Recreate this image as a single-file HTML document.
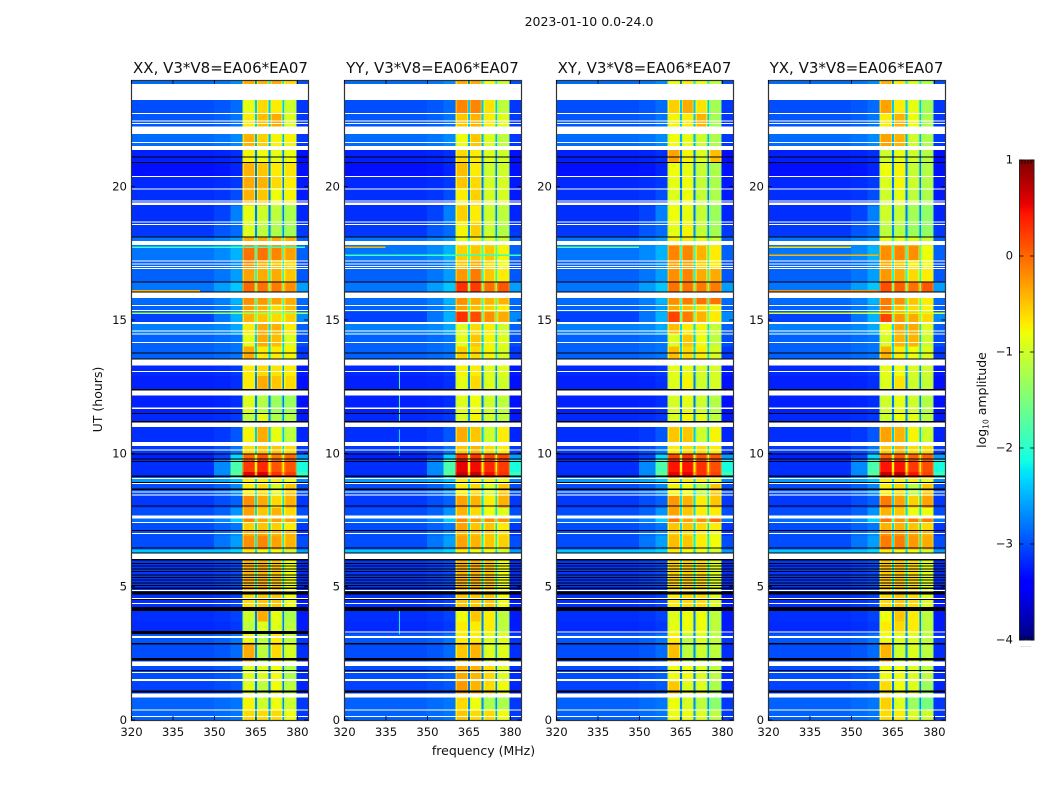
<!DOCTYPE html>
<html lang="en">
<head>
<meta charset="utf-8">
<title>2023-01-10 0.0-24.0 spectrograms</title>
<style>
  html, body { margin: 0; padding: 0; background: #fff; }
  #chart { display: block; width: 1050px; height: 800px; }
  #chart text { font-family: "DejaVu Sans", "Liberation Sans", sans-serif; fill: #111; }
</style>
</head>
<body>
<svg id="chart" xmlns="http://www.w3.org/2000/svg" width="1050" height="800" viewBox="0 0 1050 800">
  <rect x="0" y="0" width="1050" height="800" fill="#fff"/>
  <text x="589" y="26" font-size="12.5" text-anchor="middle">2023-01-10 0.0-24.0</text>
  <g id="panels"></g>
  <text x="220.5" y="73" font-size="15" text-anchor="middle">XX, V3*V8=EA06*EA07</text>
  <text x="432.5" y="73" font-size="15" text-anchor="middle">YY, V3*V8=EA06*EA07</text>
  <text x="644.5" y="73" font-size="15" text-anchor="middle">XY, V3*V8=EA06*EA07</text>
  <text x="856.5" y="73" font-size="15" text-anchor="middle">YX, V3*V8=EA06*EA07</text>
  <text x="483.5" y="755" font-size="12.5" text-anchor="middle">frequency (MHz)</text>
  <text x="102" y="399.5" font-size="12.5" text-anchor="middle" transform="rotate(-90 102 399.5)">UT (hours)</text>
  <g id="colorbar"></g>
  <text x="986" y="400" font-size="12.5" text-anchor="middle" transform="rotate(-90 986 400)">log<tspan font-size="7.5" dy="2.5">10</tspan><tspan dy="-2.5"> amplitude</tspan></text>
  <text x="1026" y="647" font-size="6" text-anchor="middle" style="fill:#999">......</text>
</svg>
<script>
// ---- chart data (all levels are log10 amplitude, times in UT hours, frequencies in MHz) ----
const xTickLabels = [320, 335, 350, 365, 380];
const yTickLabels = [0, 5, 10, 15, 20];
const colorbarTickLabels = [-4, -3, -2, -1, 0, 1];
const panelIds = ['xx', 'yy', 'xy', 'yx'];

const channelEdges = [320, 350, 356, 360.4, 360.8, 364.4, 364.8, 365.5, 365.9, 369.4, 369.8, 370.5, 370.9, 374.3, 374.7, 375.4, 375.8, 379.4, 379.8, 384];
const timeEdges = [0, .4, 1, 1.45, 2.1, 2.9, 3.25, 3.7, 4.1, 4.85, 6.25, 6.4, 6.9, 7.1, 7.4, 7.65, 7.95, 8.4, 8.9, 9.1, 9.3, 9.75, 10, 10.42, 11.15, 11.5, 12.4, 12.9, 13.55, 14, 14.5, 14.9, 15.3, 15.6, 16.05, 16.45, 16.95, 17.25, 17.8, 18.1, 18.7, 19.3, 19.95, 20.4, 20.9, 21.4, 22, 22.75, 23.85, 24];

const backgroundLevels = [-2.9,-2.9,-3.05,-3,-3,-2.95,-3.18,-3.15,-3.15,-3.1,-2.4,-3,-3,-3,-2.85,-3,-3.1,-3,-2.6,-3.15,-3.15,-3.22,-3.1,-3.15,-3.18,-3.22,-3.22,-3.18,-2.9,-2.9,-2.75,-3.05,-2.9,-2.85,-2.8,-2.9,-2.9,-2.8,-2.8,-3.1,-3.15,-3.15,-3.18,-3.3,-3.22,-2.85,-2.95,-3,-2.85];
const skirtFarLevels = [-2.85,-2.85,-3,-2.95,-2.95,-2.9,-3.15,-3.12,-3.12,-3.05,-2.4,-2.8,-2.85,-2.9,-2.7,-2.9,-3,-2.9,-2.55,-2.7,-2.7,-3.05,-3,-3.1,-3.15,-3.2,-3.2,-3.15,-2.85,-2.85,-2.7,-2.8,-2.8,-2.75,-2.6,-2.8,-2.85,-2.7,-2.7,-2.95,-3.05,-3.12,-3.15,-3.27,-3.2,-2.8,-2.9,-2.95,-2.8];
const skirtNearLevels = [-2.8,-2.8,-2.95,-2.9,-2.85,-2.8,-3.1,-3.05,-3.05,-3,-2.3,-2.6,-2.7,-2.8,-2.35,-2.65,-2.9,-2.7,-2.4,-1.7,-1.8,-2.3,-2.8,-2.95,-3.1,-3.15,-3.15,-3.1,-2.8,-2.8,-2.55,-2.5,-2.6,-2.5,-2.4,-2.6,-2.7,-2.5,-2.6,-2.85,-2.75,-3,-3.1,-3.2,-3.15,-2.7,-2.8,-2.85,-2.7];
const tailLevels = [-3.1,-3.1,-3.2,-3.15,-3.15,-3.1,-3.25,-3.25,-3.25,-3.15,-2.6,-3,-3.1,-3.1,-2.8,-3,-3.1,-3,-2.7,-1.9,-2.1,-2.6,-3.1,-3.2,-3.25,-3.3,-3.3,-3.25,-3.1,-3,-2.9,-2.7,-2.9,-2.85,-2.6,-2.95,-3,-2.9,-2.9,-3.1,-3.2,-3.25,-3.25,-3.3,-3.3,-3.1,-3.1,-3.1,-3];
const gapLevels = [-2.6,-2.7,-2.8,-2.8,-2.7,-2.7,-2.8,-2.8,-2.4,-2.2,-2.3,-2.2,-2.3,-2.3,-1.9,-2.3,-2.3,-2.3,-2.3,-.4,-.8,-1.1,-2.3,-2.4,-2.7,-2.8,-2.8,-2.7,-2.3,-2.4,-2.3,-1.6,-2,-1.9,-1.4,-2.1,-2.3,-1.9,-2.1,-2.7,-2.8,-2.8,-2.8,-2.8,-2.8,-2.5,-2.4,-2.4,-2.2];
const bandEdgeDrop = [0.25];

// four sub-band levels per time block
const xxBands = [[-.6,-.6,-.6,-.8],[-.75,-1,-.8,-1],[-.9,-1.1,-.8,-1.1],[-.9,-.9,-.8,-1.2],[-.35,-1.1,-.6,-.95],[-.8,-1.1,-.7,-1.1],[-1.1,-.9,-.9,-1.1],[-1,-.35,-.85,-1.2],[-.6,-.5,-.5,-.8],[-.4,-.4,-.5,-.8],[-.7,-.8,-.8,-1],[-.2,-.15,-.3,-.4],[-.35,-.3,-.4,-.4],[-.55,-.5,-.55,-.7],[-.15,-.3,-.3,-.3],[-.3,-.5,-.4,-.6],[-.2,-.35,-.6,-.4],[-.7,-.6,-.9,-.5],[-.7,-.7,-.7,-.8],[.55,.6,.3,.25],[.25,.35,.1,.1],[0,.1,-.1,0],[-.6,-.5,-.5,-.6],[-.75,-.35,-.85,-1.1],[-1.1,-.85,-1.2,-1.15],[-.9,-1.15,-1.3,-1.3],[-.7,-.35,-.5,-.6],[-.7,-.6,-.65,-.7],[-.35,-.7,-.7,-.75],[-.85,-.35,-.45,-.9],[-.7,-.35,-.4,-.7],[-.4,-.5,-.6,-.55],[-.3,-.4,-.6,-.45],[-.2,-.25,-.3,-.35],[0,-.05,-.1,-.2],[-.3,-.35,-.35,-.5],[-.2,-.4,-.5,-.6],[-.05,-.05,-.15,-.3],[-.35,-.35,-.35,-.4],[-.9,-1.1,-1.2,-1.25],[-.85,-1,-1.1,-1.2],[-.4,-.5,-.8,-.75],[-.35,-.4,-.6,-.7],[-.4,-.5,-.7,-.65],[-.75,-.8,-.85,-.8],[-.4,-.55,-.75,-.75],[-.7,-.45,-.35,-.9],[-.85,-.6,-.7,-1],[-.35,-.4,-.35,-.6]];
const yyBands = [[-.5,-.6,-.6,-.8],[-.6,-.8,-1.2,-1.2],[-.25,-.4,-.6,-.8],[-.35,-.4,-.6,-.9],[-.5,-.4,-.9,-.9],[-.7,-.7,-.9,-.9],[-.7,-.7,-.7,-1.1],[-.8,-.5,-.7,-1.1],[-.5,-.5,-.5,-.8],[-.4,-.4,-.5,-.8],[-.7,-.8,-.8,-1],[-.3,-.4,-.5,-.55],[-.4,-.45,-.5,-.6],[-.3,-.5,-.5,-.7],[-.15,-.25,-.2,-.2],[-.4,-.6,-.8,-.9],[-.3,-.4,-.7,-.4],[-.7,-.6,-.9,-.5],[-.7,-.7,-.7,-.8],[.7,.7,.5,.3],[.55,.5,.35,.25],[.3,.3,.2,.2],[-.5,-.4,-.6,-.7],[-.35,-.5,-1,-.7],[-.95,-.75,-1,-1.1],[-.9,-.8,-1,-1.1],[-.85,-.6,-.9,-1],[-.75,-.7,-.9,-.9],[-.55,-.6,-.75,-.95],[-.85,-.5,-.75,-.9],[-.9,-.6,-.7,-1],[.3,.15,-.2,-.35],[-.3,-.45,-.55,-.7],[-.2,-.35,-.4,-.4],[.3,.25,-.05,.1],[-.25,-.1,-.5,-.7],[-.5,-.35,-.6,-.8],[-.55,-.5,-.5,-.75],[-.8,-.7,-.9,-1],[-.75,-.55,-1,-1.15],[-.55,-.7,-1,-1.1],[-.7,-.55,-.95,-.95],[-.5,-.6,-.95,-.95],[-.45,-.7,-1,-1],[-.6,-.7,-.9,-1],[-.8,-.5,-.9,-1.1],[-.5,-.4,-.7,-.9],[-.15,-.15,-.65,-1.1],[-.35,-.35,-.8,-1]];
const xyBands = [[-.8,-.8,-.9,-1.1],[-.8,-.95,-1.1,-1.4],[-.5,-.9,-.9,-1.2],[-.8,-.8,-.9,-1.1],[-.45,-1.1,-1,-1.1],[-.7,-1.1,-.9,-1.1],[-.85,-.8,-.8,-1.1],[-.9,-.8,-.8,-1.1],[-.7,-.6,-.6,-.9],[-.55,-.55,-.6,-.9],[-.7,-.8,-.8,-1],[-.45,-.5,-.7,-.8],[-.5,-.6,-.7,-.8],[-.5,-.5,-.6,-.7],[-.05,-.3,-.2,0],[-.3,-.5,-.7,-.7],[-.25,-.4,-.7,-.5],[-.75,-.8,-1.1,-.5],[-.7,-.7,-.7,-.8],[.55,.55,.3,.2],[.45,.45,.3,.15],[.2,.3,.1,.1],[-.7,-.6,-.6,-.7],[-.5,-.5,-1,-.75],[-.95,-.75,-.85,-1.1],[-.95,-.85,-1,-1.15],[-.9,-.75,-1,-.95],[-.85,-.85,-.95,-.95],[-.45,-.6,-.7,-.95],[-.9,-.5,-.8,-1.1],[-.45,-.7,-.75,-1.05],[.2,-.1,-.4,-.7],[-.35,-.45,-.6,-.75],[-.2,-.1,-.05,-.05],[-.05,-.05,-.1,-.1],[-.2,-.15,-.35,-.35],[-.3,-.3,-.55,-.7],[-.15,-.15,-.4,-.7],[-.7,-.7,-.8,-1],[-.85,-.75,-1.05,-1.25],[-.8,-.85,-1.05,-1.3],[-.9,-.8,-1.05,-1.2],[-.85,-.8,-1.05,-1.2],[-.8,-.85,-1.05,-1.2],[-.3,-.75,-.9,-.45],[-.8,-.85,-1,-1.2],[-.75,-.7,-.4,-1.25],[-.55,-.35,-.65,-1.25],[-.8,-.7,-.8,-1.1]];
const yxBands = [[-.6,-.7,-.9,-1],[-.55,-.9,-1.3,-1.5],[-.6,-.8,-.9,-1.3],[-.8,-.8,-.9,-1.1],[-.4,-1,-.9,-1.1],[-.8,-.9,-.9,-1.1],[-.7,-.6,-.7,-1.1],[-.8,-.5,-.7,-1.1],[-.6,-.5,-.6,-.9],[-.5,-.5,-.6,-.9],[-.7,-.8,-.8,-1],[-.1,-.1,-.25,-.35],[-.2,-.2,-.3,-.4],[-.4,-.4,-.5,-.6],[-.05,-.2,-.1,-.1],[-.4,-.5,-.8,-.8],[-.1,-.3,-.55,-.3],[-.7,-.6,-1.1,-.5],[-.7,-.7,-.7,-.8],[.7,.75,.45,.2],[.45,.45,.25,.15],[.05,.1,.05,.05],[-.5,-.4,-.6,-.6],[-.3,-.4,-.75,-1],[-1,-.8,-.85,-1.1],[-1,-.85,-1,-1.15],[-.9,-.65,-1,-1.05],[-.85,-.8,-.95,-1],[-.4,-.7,-.8,-.9],[-.95,-.4,-.4,-1],[-.8,-.35,-.35,-.9],[.2,-.25,-.35,-.6],[-.1,-.45,-.6,-.75],[-.1,-.2,-.5,-.7],[.15,.05,-.05,.1],[-.25,-.35,-.6,-.7],[-.35,-.5,-.7,-.8],[-.2,-.15,-.2,-.8],[-.8,-.8,-.85,-1],[-1.1,-1.15,-1.3,-1.35],[-1,-1.05,-1.25,-1.35],[-1,-.85,-1.1,-1.2],[-.9,-.75,-1,-1.15],[-.8,-.75,-1.05,-1.15],[-1,-.85,-1,-1.15],[-.3,-.4,-1,-1.2],[-.7,-.4,-.8,-1.2],[-.3,-.7,-.85,-1.25],[-.4,-.7,-.9,-1.2]];

// narrow interference rows: [hour, level, stop frequency]
const xxInterference = [[17.73,-1.9,383],[16.1,-.4,345],[15.26,-1.3,384]];
const yyInterference = [[17.73,-.4,335],[17.43,-.3,335],[17.43,-1.9,384]];
const xyInterference = [[17.73,-1.7,350]];
const yxInterference = [[17.73,-.6,350],[17.43,-.4,360],[16.1,-.2,360],[15.26,-.9,384]];

// faint vertical interference in YY: [frequency, start hour, end hour, level]
const yyVerticalLines = [[339.9,11.2,13.3,-1.9],[339.9,9.9,10.9,-2.3],[339.9,3.2,4.1,-2.2]];

// flagged time ranges: [start hour, end hour]
const whiteFlags = [[.11,.15],[.36,.4],[.85,1],[1.465,1.53],[1.77,1.8],[2.03,2.19],[3.08,3.15],[3.28,3.32],[4.35,4.38],[4.55,4.57],[4.85,4.87],[6.03,6.24],[6.97,7.01],[7.39,7.42],[7.56,7.66],[8.41,8.45],[8.53,8.56],[8.62,8.66],[8.85,8.89],[9.04,9.07],[10.11,10.15],[10.27,10.42],[10.99,11.16],[11.67,11.71],[12.17,12.36],[13.05,13.09],[13.3,13.51],[14.14,14.17],[14.45,14.49],[14.57,14.61],[14.85,14.92],[15.34,15.37],[15.54,15.57],[15.82,16.04],[16.91,16.95],[17,17.03],[17.08,17.12],[17.2,17.24],[17.82,17.97],[18.56,18.6],[18.66,18.7],[19.31,19.4],[19.44,19.49],[19.89,19.93],[20.36,20.4],[21.37,21.52],[21.63,21.67],[21.97,22.25],[22.35,22.39],[22.45,22.49],[22.72,22.76],[23.25,23.85]];
const blackFlags = [[1.04,1.1],[1.83,1.88],[2.24,2.33],[2.84,2.88],[4.09,4.24],[4.5,4.54],[4.7,4.82],[4.92,4.96],[5.02,5.06],[5.13,5.16],[5.24,5.26],[5.34,5.36],[5.43,5.46],[5.56,5.59],[5.65,5.69],[5.75,5.79],[5.86,5.88],[5.99,6.03],[6.24,6.28],[6.43,6.47],[7.1,7.12],[8,8.05],[8.62,8.68],[8.89,8.92],[9.12,9.16],[9.68,9.71],[9.76,9.8],[9.95,9.99],[11.16,11.21],[11.47,11.51],[12.36,12.41],[13.51,13.55],[13.75,13.79],[16.04,16.07],[16.41,16.45],[18.09,18.14],[20.88,20.92],[21.1,21.13]];
const xxExtraBlackFlags = [[3.22,3.33]];

// ---- axis functions ----
const NS = 'http://www.w3.org/2000/svg';
const panelLefts = [131, 344, 556, 768];
const plotTop = 80, plotBottom = 720, plotWidth = 177;
const yScale = h => plotBottom - h * (plotBottom - plotTop) / 24;
const xScale = (f, left) => left + (f - 320) * plotWidth / 64;
const barTop = 160, barBottom = 640, barLeft = 1019.5, barRight = 1034;
const barScale = v => barBottom - (v + 4) * (barBottom - barTop) / 5;

function clamp01(v) { return Math.max(0, Math.min(1, v)); }
function jet(t) {
  const r = t < .35 ? 0 : t < .66 ? (t - .35) / .31 : t < .89 ? 1 : 1 - (t - .89) / .11 * .5;
  const g = t < .125 ? 0 : t < .375 ? (t - .125) / .25 : t < .64 ? 1 : t < .91 ? 1 - (t - .64) / .27 : 0;
  const b = t < .11 ? .5 + t / .11 * .5 : t < .34 ? 1 : t < .65 ? 1 - (t - .34) / .31 : 0;
  return 'rgb(' + Math.round(r * 255) + ',' + Math.round(g * 255) + ',' + Math.round(b * 255) + ')';
}
const levelColor = v => jet(clamp01((v + 4) / 5));

function make(tag, attrs, parent) {
  const el = document.createElementNS(NS, tag);
  for (const k in attrs) el.setAttribute(k, attrs[k]);
  parent.appendChild(el);
  return el;
}

const panelsGroup = document.getElementById('panels');
const bandSets = [xxBands, yyBands, xyBands, yxBands];
const interferenceSets = [xxInterference, yyInterference, xyInterference, yxInterference];

panelIds.forEach(function (id, p) {
  const left = panelLefts[p];
  const g = make('g', { 'shape-rendering': 'crispEdges' }, panelsGroup);
  
  
  const bands = bandSets[p];
  const d = bandEdgeDrop[0];

  // heatmap cells
  for (let r = 0; r < timeEdges.length - 1; r++) {
    const b = bands[r];
    const gp = gapLevels[r];
    const levels = [backgroundLevels[r], skirtFarLevels[r], skirtNearLevels[r],
      b[0] - d, b[0], b[0] - d, gp,
      b[1] - d, b[1], b[1] - d, gp,
      b[2] - d, b[2], b[2] - d, gp,
      b[3] - d, b[3], b[3] - d, tailLevels[r]];
    const yTop = yScale(timeEdges[r + 1]), yBot = yScale(timeEdges[r]);
    for (let c = 0; c < levels.length; c++) {
      const x0 = xScale(channelEdges[c], left), x1 = xScale(channelEdges[c + 1], left);
      const cell = make('rect', { x: x0, y: yTop, width: x1 - x0, height: yBot - yTop, fill: levelColor(levels[c]) }, g);
      
      
    }
  }

  // interference rows
  interferenceSets[p].forEach(function (row) {
    const line = make('rect', { x: left, y: yScale(row[0]) - .5, width: xScale(row[2], left) - left, height: 1.2, fill: levelColor(row[1]) }, g);
    
    
  });
  if (id === 'yy') {
    yyVerticalLines.forEach(function (v) {
      const line = make('rect', { x: xScale(v[0], left), y: yScale(v[2]), width: 1, height: yScale(v[1]) - yScale(v[2]), fill: levelColor(v[3]) }, g);
      
      
    });
  }

  // flagged rows
  whiteFlags.forEach(function (f) {
    const flag = make('rect', { x: left + 1, y: yScale(f[1]), width: plotWidth - 1, height: Math.max(1, yScale(f[0]) - yScale(f[1])), fill: '#fff' }, g);
    
    
  });
  const blacks = id === 'xx' ? blackFlags.concat(xxExtraBlackFlags) : blackFlags;
  blacks.forEach(function (f) {
    const flag = make('rect', { x: left + 1, y: yScale(f[1]), width: plotWidth - 1, height: Math.max(1, yScale(f[0]) - yScale(f[1])), fill: '#000' }, g);
    
    
  });

  // frame
  const frame = make('rect', { x: left + .5, y: plotTop + .5, width: plotWidth, height: plotBottom - plotTop, fill: 'none', stroke: '#333', 'stroke-width': 1.2 }, panelsGroup);
  
  

  // x ticks
  xTickLabels.forEach(function (f) {
    const x = xScale(f, left) + .5;
    const tb = make('line', { x1: x, x2: x, y1: plotBottom, y2: plotBottom - 4, stroke: '#000', 'stroke-width': .8 }, panelsGroup);
    
    
    const tt = make('line', { x1: x, x2: x, y1: plotTop, y2: plotTop + 4, stroke: '#000', 'stroke-width': .8 }, panelsGroup);
    
    
    const lab = make('text', { x: x, y: 736, 'font-size': 11.7, 'text-anchor': 'middle' }, panelsGroup);
    lab.textContent = f;
    
    
  });

  // y ticks
  yTickLabels.forEach(function (h) {
    const y = yScale(h);
    const tl = make('line', { x1: left, x2: left + 4, y1: y, y2: y, stroke: '#000', 'stroke-width': .8 }, panelsGroup);
    
    
    const tr = make('line', { x1: left + plotWidth, x2: left + plotWidth - 4, y1: y, y2: y, stroke: '#000', 'stroke-width': .8 }, panelsGroup);
    
    
    const lab = make('text', { x: left - 4, y: y + 4, 'font-size': 11.7, 'text-anchor': 'end' }, panelsGroup);
    lab.textContent = h;
    
    
  });
});

// ---- colorbar ----
const barGroup = document.getElementById('colorbar');
for (let i = 0; i < 256; i++) {
  const v0 = -4 + i * 5 / 256, v1 = -4 + (i + 1) * 5 / 256;
  const step = make('rect', { x: barLeft, y: barScale(v1), width: barRight - barLeft, height: barScale(v0) - barScale(v1) + .4, fill: levelColor((v0 + v1) / 2), 'shape-rendering': 'crispEdges' }, barGroup);
  
  
}
const barFrame = make('rect', { x: barLeft, y: barTop, width: barRight - barLeft, height: barBottom - barTop, fill: 'none', stroke: '#222', 'stroke-width': 1 }, barGroup);


colorbarTickLabels.forEach(function (v) {
  const y = barScale(v);
  const a = make('line', { x1: barLeft, x2: barLeft + 4, y1: y, y2: y, stroke: '#000', 'stroke-width': .8 }, barGroup);
  
  
  const b = make('line', { x1: barRight, x2: barRight - 4, y1: y, y2: y, stroke: '#000', 'stroke-width': .8 }, barGroup);
  
  
  const lab = make('text', { x: 1013, y: y + 3.5, 'font-size': 11.7, 'text-anchor': 'end' }, barGroup);
  lab.textContent = v < 0 ? '\u2212' + Math.abs(v) : String(v);
  
  
});
[1022, 1025, 1028, 1031].forEach(function (x) {
  const t1 = make('line', { x1: x, x2: x, y1: barTop, y2: barTop + 4, stroke: '#000', 'stroke-width': .7 }, barGroup);
  
  
  const t2 = make('line', { x1: x, x2: x, y1: barBottom, y2: barBottom - 4, stroke: '#000', 'stroke-width': .7 }, barGroup);
  
  
});
</script>
</body>
</html>
